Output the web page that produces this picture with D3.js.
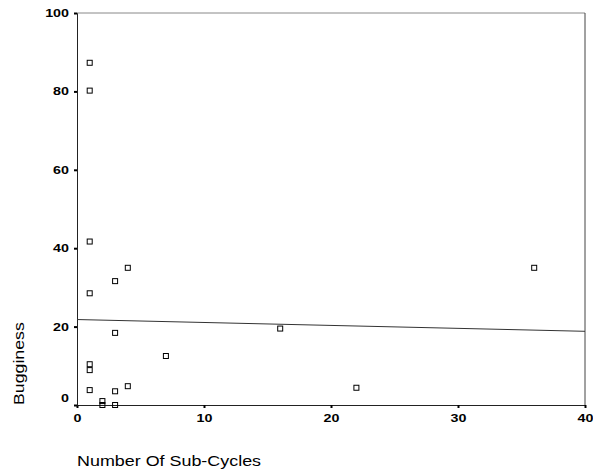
<!DOCTYPE html>
<html>
<head>
<meta charset="utf-8">
<script src="https://cdn.jsdelivr.net/npm/d3@7"></script>
<style>
  body { margin: 0; background: #fff; }
  text { font-family: "Liberation Sans", Arial, sans-serif; fill: #000; }
</style>
</head>
<body>
<svg id="chart"></svg>
<script>
// data
const subCycles = [1, 1, 1, 1, 1, 1, 1, 2, 2, 3, 3, 3, 3, 4, 4, 7, 16, 22, 36];
const bugginess = [87.3, 80.2, 41.7, 28.5, 10.4, 8.9, 3.8, 1, 0, 0, 3.5, 31.6, 18.4, 35, 4.8, 12.5, 19.5, 4.4, 35];
// fitted line end points (x, y)
const fitX = [0, 40];
const fitY = [21.8, 18.8];
const xTicks = [0, 10, 20, 30, 40];
const yTicks = [0, 20, 40, 60, 80, 100];

const width = 593;
const height = 476;
const margin = { top: 13, right: 8, bottom: 71, left: 77 };

const svg = d3.select('#chart')
  .attr('width', width)
  .attr('height', height);

const xScale = d3.scaleLinear()
  .domain([0, 40])
  .range([margin.left, width - margin.right]);

const yScale = d3.scaleLinear()
  .domain([0, 100])
  .range([height - margin.bottom, margin.top]);

// frame: top and right edges
svg.append('line')
  .attr('x1', xScale(0)).attr('x2', xScale(40))
  .attr('y1', yScale(100)).attr('y2', yScale(100))
  .attr('stroke', '#888').attr('stroke-width', 1);
svg.append('line')
  .attr('x1', xScale(40)).attr('x2', xScale(40))
  .attr('y1', yScale(100)).attr('y2', yScale(0))
  .attr('stroke', '#444').attr('stroke-width', 1);

// axes
const xAxis = d3.axisBottom(xScale).tickValues(xTicks).tickSize(3).tickPadding(6);
const yAxis = d3.axisLeft(yScale).tickValues(yTicks).tickSize(3).tickPadding(7);

const gx = svg.append('g')
  .attr('transform', `translate(0, ${yScale(0)})`)
  .call(xAxis);
const gy = svg.append('g')
  .attr('transform', `translate(${xScale(0)}, 0)`)
  .call(yAxis);

[gx, gy].forEach(g => {
  g.select('.domain').attr('stroke', '#222');
  g.selectAll('.tick line').attr('stroke', '#000').attr('stroke-width', 2);
  g.selectAll('.tick text')
    .attr('font-size', 11)
    .attr('font-weight', 'bold')
    .attr('font-family', '"Liberation Sans", Arial, sans-serif');
});

// wider glyphs like the original
gx.selectAll('.tick text').attr('transform', 'scale(1.3,1)');
gy.selectAll('.tick text')
  .attr('transform', 'scale(1.3,1)')
  .attr('x', -8 / 1.3);
gy.selectAll('.tick text').filter(d => d === 0).attr('dy', '-0.3em');

// regression line
const line = d3.line()
  .x((d, i) => xScale(fitX[i]))
  .y(d => yScale(d));

svg.append('path')
  .datum(fitY)
  .attr('d', line)
  .attr('fill', 'none')
  .attr('stroke', '#333')
  .attr('stroke-width', 1);

// points
const s = 5;
svg.selectAll('.pt')
  .data(subCycles)
  .enter()
  .append('rect')
  .attr('class', 'pt')
  .attr('x', d => xScale(d) - s / 2)
  .attr('y', (d, i) => yScale(bugginess[i]) - s / 2)
  .attr('width', s)
  .attr('height', s)
  .attr('fill', 'none')
  .attr('stroke', '#000')
  .attr('stroke-width', 1);

// axis titles
svg.append('text')
  .attr('transform', `translate(${xScale(0)}, 466) scale(1.28,1)`)
  .attr('font-size', 14)
  .text('Number Of Sub-Cycles');

svg.append('text')
  .attr('transform', `translate(24, ${yScale(0)}) rotate(-90) scale(1.24,1)`)
  .attr('font-size', 14.3)
  .text('Bugginess');
</script>
</body>
</html>
